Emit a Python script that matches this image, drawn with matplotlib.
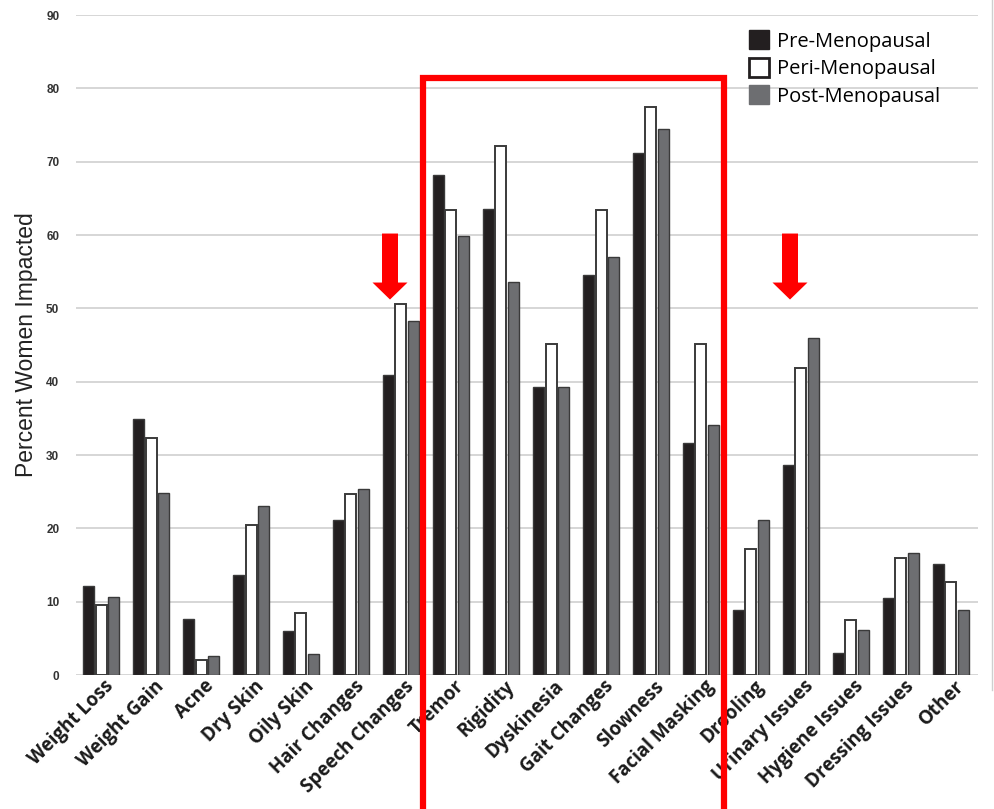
import numpy as np
import matplotlib
matplotlib.use("Agg")
import matplotlib.pyplot as plt
from matplotlib.patches import Rectangle, Polygon
from matplotlib.lines import Line2D

# symptom categories and percent of women impacted
categories = ["Weight Loss", "Weight Gain", "Acne", "Dry Skin", "Oily Skin",
              "Hair Changes", "Speech Changes", "Tremor", "Rigidity", "Dyskinesia",
              "Gait Changes", "Slowness", "Facial Masking", "Drooling",
              "Urinary Issues", "Hygiene Issues", "Dressing Issues", "Other"]
pre = [12.1, 34.9, 7.6, 13.6, 6.0, 21.1, 40.9, 68.2, 63.6, 39.3,
       54.6, 71.2, 31.7, 8.9, 28.7, 3.0, 10.5, 15.2]
peri = [9.6, 32.3, 2.1, 20.4, 8.5, 24.7, 50.6, 63.4, 72.1, 45.1,
        63.4, 77.4, 45.1, 17.2, 41.9, 7.5, 16.0, 12.7]
post = [10.7, 24.8, 2.6, 23.0, 2.9, 25.3, 48.3, 59.8, 53.6, 39.3,
        57.0, 74.4, 34.1, 21.1, 45.9, 6.1, 16.6, 8.8]
series_names = ["Pre-Menopausal", "Peri-Menopausal", "Post-Menopausal"]
yticks = [0, 10, 20, 30, 40, 50, 60, 70, 80, 90]

# which groups get highlighted
box_span = ("Tremor", "Facial Masking")
arrow_cats = ["Speech Changes", "Urinary Issues"]

W, H = 994, 809
fig = plt.figure(figsize=(W / 100, H / 100), dpi=100)
ax = fig.add_axes([76 / W, 134 / H, 902 / W, 660 / H])

x = np.arange(len(categories))
bw = 0.22
step = 0.25
edge = "#3a3a3a"
ax.bar(x - step + 0.02, pre, bw, color="#231f20", edgecolor=edge, lw=1, zorder=3)
ax.bar(x + 0.02, peri, bw, color="white", edgecolor=edge, lw=1.4, zorder=3)
ax.bar(x + step + 0.02, post, bw, color="#6d6e71", edgecolor=edge, lw=1, zorder=3)

ax.set_xlim(-0.48, 17.56)
ax.set_ylim(0, 90)
ax.set_yticks(yticks)
ax.set_yticklabels([str(t) for t in yticks], fontsize=8.5, fontweight="bold",
                   color="#333333", family="Liberation Sans")
ax.tick_params(axis="y", length=0, pad=12)
ax.tick_params(axis="x", length=0, pad=1)
ax.set_xticks(x + 0.08)
ax.set_xticklabels(categories, rotation=45, ha="right", rotation_mode="anchor",
                   fontsize=13.5, fontweight="bold", family="Open Sans",
                   color="#1a1a1a")
ax.grid(axis="y", color="#d0d0d0", lw=1.2, zorder=0)
for s in ax.spines.values():
    s.set_visible(False)
ax.set_ylabel("Percent Women Impacted", fontsize=16.5, family="Liberation Sans",
              color="#222222", labelpad=6)

# legend
handles = [Rectangle((0, 0), 1, 1, fc="#231f20", ec="#231f20"),
           Rectangle((0, 0), 1, 1, fc="white", ec="#231f20", lw=2),
           Rectangle((0, 0), 1, 1, fc="#6d6e71", ec="#6d6e71")]
fig.legend(handles, series_names, loc="upper left",
           bbox_to_anchor=(749 / W, 1 - 30 / H), frameon=False,
           prop={"family": "Open Sans", "size": 14.5}, handlelength=1.0,
           handleheight=1.1, handletextpad=0.4, labelspacing=0.3,
           borderpad=0, borderaxespad=0)

# red box around motor symptoms
px_x = 50.0        # pixels per category unit
px_y = 660 / 90.0  # pixels per percent
i0 = categories.index(box_span[0])
i1 = categories.index(box_span[1])
left = i0 - 0.54
right = i1 + 0.48
top = 81.4
ax.add_patch(Rectangle((left, -40), right - left, top + 40, fill=False,
                       ec="#ff0000", lw=4.5, clip_on=False, zorder=5))

# red arrows
for name in arrow_cats:
    cx = categories.index(name) - 0.2
    tip = 51.2
    sw, hw, hl, L = 8 / px_x, 17.5 / px_x, 17 / px_y, 66 / px_y
    pts = [(cx - sw, tip + L), (cx + sw, tip + L), (cx + sw, tip + hl),
           (cx + hw, tip + hl), (cx, tip), (cx - hw, tip + hl), (cx - sw, tip + hl)]
    ax.add_patch(Polygon(pts, closed=True, fc="#ff0000", ec="none",
                         clip_on=False, zorder=6))

# thin frame line on the right edge
fig.add_artist(Line2D([992 / W, 992 / W], [1 - 690 / H, 1], color="#cfcfcf", lw=1))

fig.savefig("out.png", dpi=100)
